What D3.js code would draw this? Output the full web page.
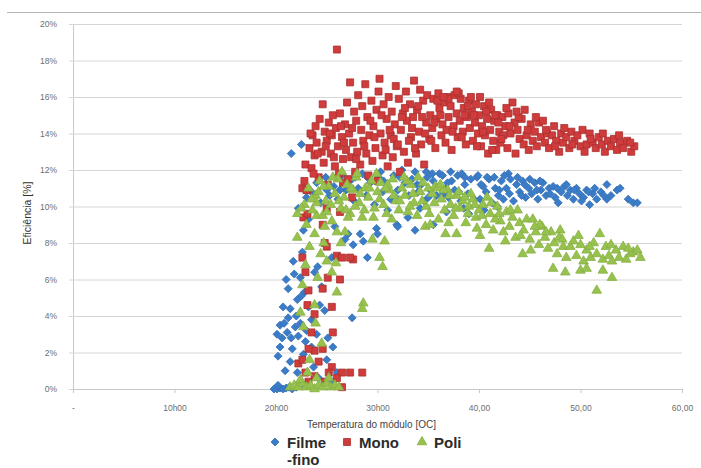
<!DOCTYPE html>
<html>
<head>
<meta charset="utf-8">
<script src="https://cdn.jsdelivr.net/npm/d3@7"></script>
<style>
  html, body { margin: 0; padding: 0; background: #fff; }
  svg { display: block; font-family: "Liberation Sans", Arial, sans-serif; }
</style>
</head>
<body>
<svg id="chart" width="701" height="468"></svg>
<script>
// Axis tick labels
const yTicks = [0, 2, 4, 6, 8, 10, 12, 14, 16, 18, 20];
const xTicks = [0, 10, 20, 30, 40, 50, 60];
const xTickLabels = ["-", "10h00", "20h00", "30h00", "40,00", "50,00", "60,00"];

// Series names
const seriesNames = ["Filme\n-fino", "Mono", "Poli"];

// Filme-fino: [temperatura, eficiência %]
const filmeFino = [
  [19.8,0.0],[20.1,0.0],[20.4,0.05],[20.7,0.0],[21.0,0.05],[21.3,0.1],[21.6,0.0],[22.0,0.1],[22.4,0.2],[20.2,0.2],
  [20.1,3.0],[20.2,1.8],[20.4,2.3],[20.4,3.5],[20.7,4.5],[20.9,1.0],[21.1,3.1],[21.2,3.9],[21.2,5.5],[21.4,1.5],
  [21.4,4.4],[21.6,2.2],[21.7,7.0],[22.1,0.9],[22.1,4.9],[22.2,2.9],[22.2,9.9],[22.4,3.6],[22.4,6.1],[22.7,8.7],
  [22.9,2.6],[23.2,4.5],[23.2,9.3],[23.5,2.3],[23.5,3.8],[23.8,6.4],[24.1,6.7],[24.3,4.6],[24.8,4.3],[25.0,1.6],
  [25.1,2.8],[25.5,7.2],[25.6,0.4],[25.6,2.3],[25.8,8.9],[26.0,0.9],[26.8,8.2],[27.1,8.5],[27.5,3.9],[27.6,7.9],
  [28.3,8.5],[28.6,8.1],[29.0,7.2],[29.9,8.8],[30.0,8.5],[31.9,9.0],[32.0,8.9],[33.7,8.7],[21.8,6.3],[22.6,7.5],
  [21.0,6.0],[23.0,10.5],[22.8,5.3],[20.6,2.8],[24.5,5.6],[21.9,3.4],[23.7,1.2],[24.2,0.6],[22.7,1.9],
  [21.5,12.9],[22.5,13.4],
  [23.5,10.8],[24.0,11.3],[24.4,10.2],[24.9,11.6],[25.3,10.6],[25.7,11.1],[26.1,10.4],[26.5,11.7],[26.9,10.9],[27.3,11.4],
  [27.7,10.3],[28.1,11.0],[28.5,11.8],[28.9,10.6],[29.3,11.3],[29.7,10.1],[30.1,11.6],[30.5,10.8],[30.9,11.2],[31.3,10.4],
  [31.6,11.7],[32.0,10.9],[32.4,12.0],[32.7,11.3],[33.1,10.6],[33.4,11.5],[33.7,11.9],[34.0,10.8],[34.3,11.2],[34.6,10.3],
  [34.9,11.6],[35.2,10.9],[35.5,11.4],[35.8,10.6],[36.1,11.8],[36.4,11.7],[36.7,11.0],[37.0,10.5],[37.3,11.4],[37.6,10.9],
  [37.9,11.7],[38.2,10.3],[38.3,11.8],[38.6,11.2],[38.9,10.7],[39.2,11.5],[39.5,10.4],[39.8,11.6],[40.1,10.4],[40.4,11.1],
  [40.7,10.8],[41.0,11.5],[41.3,10.2],[41.6,11.0],[41.9,10.6],[42.2,11.4],[42.4,10.4],[42.7,11.0],[43.0,10.7],[43.1,11.5],
  [43.4,10.3],[43.7,11.2],[44.0,10.8],[44.3,11.4],[44.6,10.5],[44.9,11.0],[45.2,10.7],[45.5,11.3],[45.8,10.4],[46.1,10.9],
  [46.3,11.3],[46.6,10.6],[46.9,11.0],[47.3,11.1],[47.5,10.5],[47.8,10.2],[48.1,10.8],[48.4,11.1],[48.7,10.6],[49.0,10.9],
  [49.3,10.4],[49.6,11.0],[49.9,10.7],[50.3,10.5],[50.6,10.9],[50.9,10.1],[51.2,10.7],[51.6,10.4],[52.0,10.8],[52.6,10.4],
  [52.6,11.2],[53.0,10.6],[53.6,10.9],[53.9,11.0],[54.7,10.4],[55.2,10.2],[55.6,10.2],
  [31.0,9.8],[33.0,9.4],[35.5,9.0],[36.8,9.7],[38.5,9.9],[40.5,9.8],[41.8,10.0],[39.0,9.6],[34.2,9.9],
  [30.3,11.9],[31.8,10.5],[34.8,11.9],[37.2,11.9],[39.9,11.7],[41.5,11.6],[43.8,11.6],[45.0,11.5],[36.9,11.3],[40.2,11.2],
  [42.0,10.9],[44.2,10.6],[47.0,10.7],[48.6,11.2],[50.1,10.3],[51.4,11.0],[35.0,10.5],[38.0,10.8],[42.9,11.8],[46.0,11.4],
  [25.0,10.9],[26.3,10.9],[27.8,11.6],[29.0,11.6],[30.6,11.4],[32.2,11.6],[33.9,11.2],[35.4,11.8],[36.5,10.7],[38.6,11.6],
  [40.8,11.6],[42.5,11.7],[44.5,11.2],[45.7,10.9],[47.7,11.0],[49.4,10.9],[50.8,10.8],[52.3,10.6],[22.0,4.0],[21.5,2.8],
  [20.8,3.6],[23.0,3.2],[22.5,5.1],[24.0,3.0]
];

// Mono: [temperatura, eficiência %]
const mono = [
  [26.0,18.6],
  [22.6,11.0],[22.9,12.3],[23.1,10.9],[23.3,13.2],[23.5,12.1],[23.6,13.9],[23.8,12.8],[23.9,14.4],[24.0,13.5],[24.2,11.6],
  [24.3,14.8],[24.5,13.0],[24.6,15.6],[24.7,12.4],[24.8,14.1],[25.0,13.6],[25.1,11.2],[25.2,14.6],[25.4,12.9],[25.5,13.9],
  [25.6,15.0],[25.8,12.2],[25.9,14.3],[26.1,13.3],[26.2,11.8],[26.3,15.1],[26.5,13.8],[26.6,12.6],[26.8,14.5],[26.9,13.1],
  [27.0,15.7],[27.1,11.5],[27.2,14.0],[27.3,16.8],[27.4,12.7],[27.6,13.5],[27.7,15.2],[27.8,11.9],[27.9,14.7],[28.0,13.0],
  [28.1,16.1],[28.3,12.3],[28.4,14.2],[28.5,15.5],[28.6,13.6],[28.8,16.7],[28.9,12.9],[29.0,14.9],[29.1,11.7],[29.2,13.9],
  [29.4,15.8],[29.5,12.5],[29.6,14.4],[29.8,13.2],[29.9,15.3],[30.0,11.4],[30.1,16.3],[30.2,17.0],[30.3,14.0],[30.5,12.8],
  [30.6,15.6],[30.7,13.5],[30.9,14.8],[31.0,12.2],[31.1,16.0],[31.3,13.9],[31.4,15.2],[31.5,12.7],[31.7,14.5],[31.8,16.6],
  [31.9,13.3],[32.1,15.9],[32.2,11.9],[32.3,14.2],[32.5,15.1],[32.6,13.0],[32.8,16.3],[32.9,14.7],[33.0,12.4],[33.2,15.6],
  [33.3,13.8],[33.5,14.9],[33.6,16.9],[33.8,12.9],[33.9,15.3],[34.1,14.1],[34.2,16.4],[34.3,13.4],[34.5,15.8],[34.6,12.3],
  [34.8,14.6],[34.9,16.1],[35.1,13.7],[35.2,15.0],[35.4,14.3],[35.5,15.9],[35.7,13.2],[35.8,14.8],[36.0,16.2],[36.1,15.4],
  [36.3,13.9],[36.4,14.5],[36.6,15.7],[36.7,13.5],[36.9,16.0],[37.0,14.9],[37.2,15.5],[37.3,13.1],[37.5,14.4],[37.6,16.1],
  [37.8,15.1],[37.9,13.8],[38.1,14.7],[38.2,15.9],[38.4,14.1],[38.5,15.4],[38.7,13.4],[38.8,14.9],[39.0,15.8],[39.1,14.3],
  [39.3,15.2],[39.4,13.6],[39.6,14.6],[39.7,15.6],[39.9,14.0],[40.0,15.0],[40.2,13.3],[40.3,14.4],[40.5,15.5],[40.6,13.9],
  [40.8,14.8],[40.9,12.9],[41.1,14.2],[41.2,15.3],[41.4,13.6],[41.5,14.7],[41.7,13.1],[41.8,15.0],[42.0,14.1],[42.1,13.5],
  [42.3,14.9],[42.4,13.9],[42.6,14.4],[42.8,13.2],[42.9,15.1],[43.1,14.0],[43.3,15.7],[43.5,14.6],[43.6,12.9],[43.8,14.2],
  [44.0,13.7],[44.2,14.8],[44.4,13.4],[44.5,15.3],[44.7,13.9],[44.9,13.1],[45.1,14.5],[45.3,13.6],[45.5,14.1],[45.7,13.3],
  [45.9,14.6],[46.1,13.8],[46.3,14.7],[46.5,13.5],[46.7,14.0],[46.9,13.2],[47.2,13.9],[47.4,14.4],[47.6,13.6],[47.9,13.0],
  [48.1,14.0],[48.3,13.5],[48.6,13.8],[48.9,13.2],[49.1,14.1],[49.4,13.6],[49.7,13.9],[50.0,13.3],[50.2,14.2],[50.6,13.4],
  [50.9,14.0],[51.2,13.5],[51.5,13.2],[51.8,13.8],[52.1,13.4],[52.2,14.0],[52.4,13.0],[52.7,13.6],[53.0,13.3],[53.3,13.7],
  [53.6,13.1],[53.9,13.5],[54.2,13.2],[54.6,13.6],[55.0,13.0],[55.3,13.3],
  [36.2,15.0],[37.0,15.9],[38.0,16.2],[38.6,15.0],[39.2,16.0],[40.4,14.1],[41.0,15.7],[41.9,14.6],[42.7,15.4],[43.9,14.9],
  [30.4,15.0],[31.6,13.7],[32.4,14.9],[33.1,13.6],[34.0,15.5],[34.7,14.0],[35.6,14.6],[36.8,14.2],[39.8,13.3],[41.3,13.1],
  [23.4,14.0],[24.1,12.9],[24.9,13.3],[25.3,14.0],[25.7,12.7],[26.4,14.4],[26.7,13.5],[27.5,14.3],[27.9,12.6],[28.7,13.3],
  [29.3,14.7],[29.7,13.8],[30.8,13.1],[31.2,14.2],[32.0,13.4],[32.7,15.4],[33.4,14.3],[33.7,13.2],[34.4,14.9],[35.3,13.6],
  [35.9,15.8],[36.5,16.0],[37.4,14.1],[37.8,16.3],[38.3,13.8],[38.9,15.5],[39.5,15.0],[40.1,16.0],[40.7,15.2],[41.6,15.0],
  [42.2,13.7],[43.0,14.4],[43.7,15.2],[44.8,14.2],[45.6,14.9],[46.6,14.2],[47.5,13.3],[48.4,14.3],[49.2,13.4],[50.4,13.0],
  [51.0,13.7],[53.8,13.9],[54.9,13.5],[23.7,11.8],[22.8,11.4],[26.6,11.3],[27.5,10.5],
  [22.7,9.4],[24.6,9.0],[24.8,8.0],[22.6,7.2],[26.0,7.3],[27.6,7.1],[22.9,6.4],[25.1,6.1],[26.3,6.0],[23.2,5.4],
  [24.6,5.5],[23.1,4.6],[25.5,4.5],[23.8,4.1],[23.5,3.1],[25.6,3.1],[23.8,2.1],[24.6,2.2],[23.2,2.2],[22.2,1.4],
  [22.9,0.9],[25.5,1.2],[26.5,0.9],[27.3,0.9],[28.5,0.9],[23.8,0.7],[26.5,0.1],[23.2,0.4],[24.8,0.4],[26.0,0.6],
  [22.6,1.6],[23.1,9.6],[25.0,7.8],[26.5,7.2],[23.0,10.9],[26.3,9.7],[27.3,7.2],[25.0,9.9],[24.2,1.5],[25.2,0.9]
];

// Poli: [temperatura, eficiência %]
const poli = [
  [21.4,0.1],[21.8,0.2],[22.2,0.1],[22.6,0.3],[23.0,0.1],[23.4,0.2],[23.8,0.0],[24.2,0.2],[24.6,0.1],[25.0,0.3],
  [25.4,0.1],[25.8,0.2],[26.2,0.1],[22.4,0.5],[24.0,0.6],[25.2,0.6],
  [23.1,0.9],[23.3,1.6],[22.7,3.4],[22.4,4.2],[23.8,4.6],[22.6,5.7],[24.1,6.1],[25.5,6.4],[26.0,5.3],[25.0,7.0],
  [23.3,7.8],[22.1,8.3],[23.8,8.5],[22.1,9.6],[24.5,2.5],[23.9,3.6],[22.9,6.8],[24.4,7.4],[26.4,8.0],[25.9,6.9],
  [24.8,8.9],[23.0,9.0],[24.0,9.5],[26.8,8.6],
  [28.6,4.7],[28.5,4.4],[30.2,7.2],[30.5,6.7],[30.7,8.1],[29.6,9.4],[31.4,9.3],[29.5,8.2],
  [22.8,10.1],[23.2,11.0],[23.6,9.8],[23.9,10.6],[24.3,11.4],[24.6,9.5],[24.9,10.3],[25.2,11.1],[25.5,9.2],[25.8,10.7],
  [26.1,11.5],[26.4,9.9],[26.7,10.5],[27.0,11.2],[27.3,9.6],[27.6,10.9],[27.9,11.6],[28.2,10.2],[28.5,9.4],[28.8,11.0],
  [29.1,10.5],[29.4,11.4],[29.7,9.9],[30.0,10.8],[30.3,11.3],[30.6,10.1],[30.9,9.6],[31.2,10.9],[31.5,11.5],[31.8,10.3],
  [32.1,9.8],[32.4,11.0],[32.7,10.6],[33.0,9.7],[33.3,11.2],[33.6,10.2],[33.9,9.5],[34.2,10.8],[34.5,11.3],[34.7,8.9],
  [34.8,10.0],[35.1,9.6],[35.4,10.7],[35.7,11.1],[36.0,9.3],[36.3,10.4],[36.6,9.8],[36.7,8.5],[36.9,10.9],[37.2,10.1],
  [37.5,9.5],[37.8,8.5],[37.8,10.6],[38.1,9.9],[38.4,10.3],[38.7,9.1],[39.0,10.0],[39.4,10.4],[39.7,9.4],[40.1,8.4],
  [40.0,9.8],[40.4,10.1],[40.7,9.0],[41.0,7.7],[41.1,9.6],[41.4,8.7],[41.8,10.0],[42.1,9.2],[42.4,8.6],[42.7,9.7],
  [43.0,8.9],[43.3,9.4],[43.6,8.3],[44.0,9.1],[44.3,7.4],[44.4,8.7],[44.7,9.3],[45.0,8.2],[45.3,9.3],[45.6,8.6],
  [45.9,7.9],[46.2,8.9],[46.5,8.3],[46.8,7.7],[47.1,8.6],[47.3,6.6],[47.4,8.0],[47.7,7.4],[48.0,8.7],[48.3,7.8],
  [48.5,6.4],[48.6,7.2],[49.0,7.8],[49.3,8.1],[49.6,7.3],[50.0,7.9],[50.0,6.5],[50.3,7.0],[50.6,6.6],[50.6,7.6],
  [51.0,7.2],[51.3,8.0],[51.6,5.4],[51.6,7.4],[51.9,8.5],[52.2,6.5],[52.2,7.1],[52.5,7.8],[52.8,7.3],[53.1,6.1],
  [53.1,7.0],[53.5,7.6],[53.8,7.2],[54.2,7.8],[54.5,7.1],[54.9,7.4],[55.2,7.5],[55.6,7.6],[55.9,7.2],
  [31.0,11.2],[32.9,11.4],[34.0,11.6],[35.9,11.0],[36.5,10.9],[38.0,10.8],[39.2,10.7],[40.8,10.5],[28.0,11.8],[26.5,11.9],
  [24.0,10.2],[25.0,9.7],[27.8,10.0],[29.9,11.8],[33.2,10.0],[35.2,9.0],[37.0,9.1],[38.9,9.6],[41.6,9.3],[43.8,9.8],
  [46.0,9.0],[47.9,8.3],[49.8,8.4],[39.8,8.8],[42.6,8.1],[45.1,7.6],
  [24.2,10.8],[24.7,11.1],[25.4,10.1],[25.6,11.6],[26.2,10.3],[26.9,9.8],[27.4,11.0],[28.3,10.7],[28.7,9.8],[29.2,11.0],
  [30.2,10.4],[30.8,11.0],[31.6,10.6],[32.2,10.3],[32.6,11.6],[33.5,10.7],[34.4,10.3],[35.0,11.0],[35.6,10.2],[36.2,11.2],
  [37.1,10.6],[37.7,9.9],[38.6,10.5],[39.6,10.1],[40.3,9.5],[41.2,10.2],[42.0,9.6],[43.1,9.8],[44.1,8.4],[45.5,8.9],
  [46.6,8.6],[48.2,8.2],[50.9,7.8],[53.0,7.9],[54.7,7.7],[23.5,10.4],[22.5,9.9],[26.0,8.6],[27.1,9.4],[24.7,8.0]
];

const svg = d3.select("#chart");

const x = d3.scaleLinear().domain([0, 60]).range([73, 682]);
const y = d3.scaleLinear().domain([0, 20]).range([389, 24]);

// Thin frame line across the top
svg.append("line")
  .attr("x1", 7).attr("x2", 701).attr("y1", 12.5).attr("y2", 12.5)
  .attr("stroke", "#b5b5b5").attr("stroke-width", 1.2);

// Horizontal gridlines + y axis
const yAxis = d3.axisLeft(y)
  .tickValues(yTicks)
  .tickSize(-(682 - 73))
  .tickPadding(16)
  .tickFormat(d => d + "%");

const gy = svg.append("g")
  .attr("transform", "translate(73,0)")
  .call(yAxis);
gy.select(".domain").attr("stroke", "#c8c8c8");
gy.selectAll(".tick line").attr("stroke", "#d6d6d6").attr("x1", -4);
gy.selectAll(".tick text")
  .attr("fill", "#6e6e6e")
  .attr("font-size", "8.5px")
  .attr("font-family", "Liberation Sans, Arial, sans-serif");

// x axis
const xAxis = d3.axisBottom(x)
  .tickValues(xTicks)
  .tickSize(4)
  .tickPadding(12)
  .tickFormat((d, i) => xTickLabels[i]);

const gx = svg.append("g")
  .attr("transform", "translate(0,389)")
  .call(xAxis);
gx.select(".domain").attr("stroke", "#c8c8c8");
gx.selectAll(".tick line").attr("stroke", "#c8c8c8");
gx.selectAll(".tick text")
  .attr("fill", "#6e6e6e")
  .attr("font-size", "8.5px")
  .attr("font-family", "Liberation Sans, Arial, sans-serif");

// Axis titles
svg.append("text")
  .attr("x", (x(0) + x(60)) / 2 - 6)
  .attr("y", 428)
  .attr("text-anchor", "middle")
  .attr("font-size", "10px")
  .attr("fill", "#444")
  .text("Temperatura do módulo [OC]");

svg.append("text")
  .attr("transform", "translate(31,213) rotate(-90)")
  .attr("text-anchor", "middle")
  .attr("font-size", "10.5px")
  .attr("fill", "#333")
  .text("Eficiência [%]");

// Marker definitions per series
const styles = [
  { data: filmeFino, symbol: d3.symbolSquare, size: 32, rotate: 45, fill: "#3b7cc8", stroke: "#3570b5" },
  { data: mono, symbol: d3.symbolSquare, size: 49, rotate: 0, fill: "#d03b3b", stroke: "#a93030" },
  { data: poli, symbol: d3.symbolTriangle, size: 40, rotate: 0, fill: "#97c24e", stroke: "#86b042" }
];

const plot = svg.append("g");
styles.forEach(s => {
  const path = d3.symbol().type(s.symbol).size(s.size)();
  plot.append("g")
    .selectAll("path")
    .data(s.data)
    .join("path")
    .attr("d", path)
    .attr("transform", d => `translate(${x(d[0])},${y(d[1])}) rotate(${s.rotate})`)
    .attr("fill", s.fill)
    .attr("stroke", s.stroke)
    .attr("stroke-width", 0.8);
});

// Legend
const legendX = [275, 347, 422];
const legend = svg.append("g");
styles.forEach((s, i) => {
  const g = legend.append("g").attr("transform", `translate(${legendX[i]},442)`);
  g.append("path")
    .attr("d", d3.symbol().type(s.symbol).size(s.size)())
    .attr("transform", `rotate(${s.rotate})`)
    .attr("fill", s.fill)
    .attr("stroke", s.stroke)
    .attr("stroke-width", 0.8);
  const lines = seriesNames[i].split("\n");
  const t = g.append("text")
    .attr("x", 12)
    .attr("y", 5.5)
    .attr("font-size", "15px")
    .attr("font-weight", "bold")
    .attr("fill", "#2b2b2b");
  lines.forEach((ln, j) => {
    t.append("tspan").attr("x", 12).attr("dy", j === 0 ? 0 : 17).text(ln);
  });
});
</script>
</body>
</html>
